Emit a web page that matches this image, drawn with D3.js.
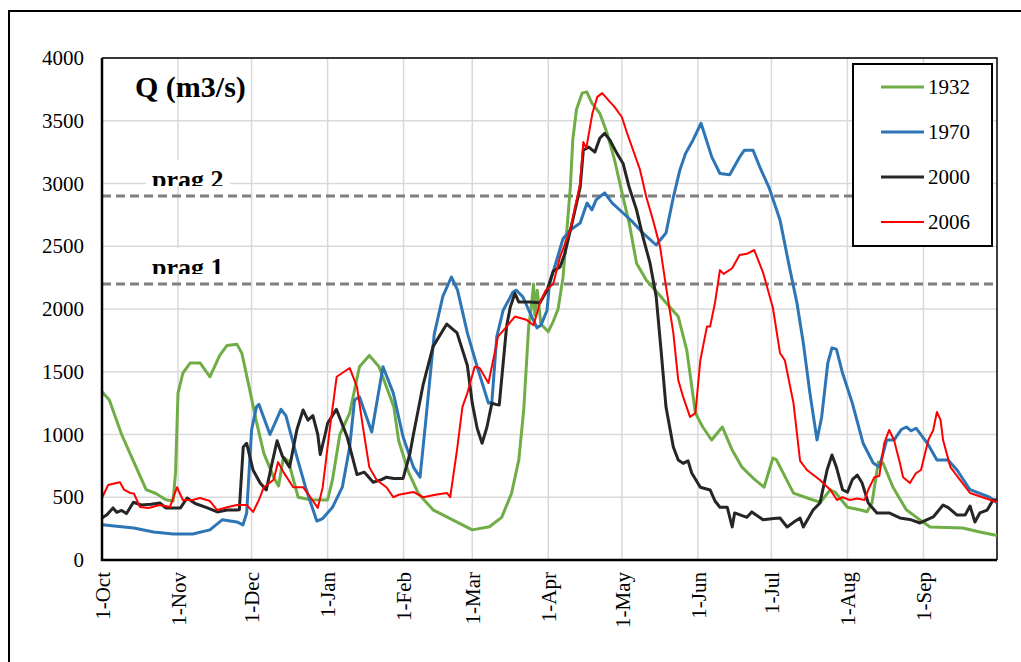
<!DOCTYPE html>
<html>
<head>
<meta charset="utf-8">
<script src="https://cdn.jsdelivr.net/npm/d3@7"></script>
<style>
  body { margin: 0; background: #fff; }
  svg { display: block; font-family: "Liberation Serif", "Times New Roman", serif; }
</style>
</head>
<body>
<div id="chart"></div>
<script>
// day offsets counted from 1-Oct
const monthDays = [0, 31, 61, 92, 123, 151, 182, 212, 243, 273, 304, 335];
const monthLabels = ["1-Oct", "1-Nov", "1-Dec", "1-Jan", "1-Feb", "1-Mar", "1-Apr", "1-May", "1-Jun", "1-Jul", "1-Aug", "1-Sep"];
const yTicks = [0, 500, 1000, 1500, 2000, 2500, 3000, 3500, 4000];
const thresholds = [{ name: "prag 1", q: 2200 }, { name: "prag 2", q: 2900 }];
const years = ["1932", "1970", "2000", "2006"];

// [day, Q m3/s]
const q1932 = [[0,1340],[3,1275],[8,1000],[13,780],[18,560],[22,530],[26,480],[29,470],[30,700],[31,1330],[33,1490],[36,1570],[40,1570],[44,1460],[48,1630],[51,1710],[55,1720],[57,1650],[60,1380],[63,1100],[66,850],[70,660],[72,590],[74,820],[76,790],[80,500],[85,480],[92,478],[94,640],[97,1000],[101,1170],[105,1540],[109,1630],[113,1540],[119,1220],[121,950],[125,700],[129,530],[135,400],[143,320],[151,240],[158,265],[163,340],[167,530],[170,800],[172,1200],[174,1860],[175,2000],[176,2200],[176.5,1950],[177.5,2150],[179,1880],[182,1820],[184,1900],[186,2000],[188,2250],[191,2970],[192,3350],[193.5,3590],[195.8,3720],[197.7,3730],[199.8,3640],[203,3560],[206,3400],[209,3190],[212.5,2890],[215,2685],[218,2365],[222,2230],[227,2120],[230,2050],[235,1940],[238.5,1670],[242,1170],[245,1060],[248.6,956],[253,1060],[257,876],[261,740],[265.5,653],[270,580],[273.6,812],[275,800],[282,533],[290,478],[293,460],[297,560],[299,540],[304,420],[309,400],[312,384],[314,455],[316.6,780],[318.5,773],[322.6,580],[328,400],[333.6,320],[337.7,263],[351,255],[358,223],[365,195]];
const q1970 = [[0,280],[5,270],[13,255],[21,223],[29,207],[37,207],[44,240],[49,320],[55,303],[57.5,280],[59,375],[61,1036],[63,1220],[64,1240],[68.5,1000],[73,1200],[75,1150],[79.5,820],[83,580],[87.6,310],[90,330],[94,420],[98,580],[101,900],[103,1275],[105,1300],[110,1020],[114.6,1540],[118.8,1330],[122.8,980],[127,740],[129.7,660],[132,1100],[135.5,1800],[139,2100],[142.5,2255],[145,2150],[149,1810],[153,1540],[157.6,1250],[159,1260],[161,1780],[163.6,1990],[167.6,2135],[169,2150],[171.7,2095],[174.5,1970],[177.4,1850],[179,1870],[181.5,1990],[182.5,2200],[185.6,2400],[188,2560],[191,2630],[195,2685],[197.8,2845],[199.8,2790],[201.5,2870],[205,2925],[208,2845],[212.5,2765],[216.6,2690],[220.6,2605],[226,2510],[230,2605],[233,2890],[235.7,3110],[238,3240],[241,3345],[244.3,3480],[248.7,3210],[252,3080],[256,3070],[260,3210],[262,3265],[265.5,3265],[268.5,3120],[272,2970],[276.5,2710],[280.6,2310],[283.4,2050],[286,1730],[288.7,1330],[291.6,956],[293.5,1140],[296,1570],[297.7,1690],[299.5,1680],[302,1490],[306,1250],[310.4,930],[314.5,773],[317,740],[320,956],[323,956],[326,1040],[328,1060],[330,1030],[332,1050],[336.6,930],[340.5,797],[345,797],[348.7,717],[354,560],[362,500],[365,455]];
const q2000 = [[0,335],[2,360],[4.5,415],[6,380],[8,395],[10,370],[12.8,460],[16,438],[20,445],[23.6,454],[26,415],[32,415],[34.7,494],[38,450],[43,415],[47,383],[51,398],[55,398],[56,400],[57.6,900],[59,930],[61.6,717],[64.5,613],[67,558],[69,740],[71.4,950],[73.5,830],[76.5,740],[79.5,1040],[82,1195],[84,1115],[86,1150],[88,1000],[89,840],[91,1000],[92,1090],[95.6,1200],[100,980],[104,680],[107,700],[110.6,620],[114,640],[116,660],[119,650],[122.8,650],[125.6,850],[127,1000],[131,1400],[135,1700],[140.6,1880],[144.8,1810],[149,1550],[151,1250],[153,1050],[155,930],[157,1060],[159,1250],[160.5,1240],[162,1235],[165,1860],[166.5,2015],[168.4,2125],[170,2055],[174.5,2055],[178.6,2050],[181.5,2150],[184,2300],[186.8,2335],[188.8,2445],[192,2710],[195,2970],[196.3,3265],[198.5,3290],[201,3250],[203,3360],[205,3400],[207,3350],[210,3240],[212.5,3160],[215,2970],[218,2790],[220.6,2575],[223.5,2365],[226,2100],[228,1670],[230,1220],[233,900],[235,797],[237,770],[239,790],[240.5,693],[244,580],[248,558],[250,470],[252,420],[255,420],[257,263],[258,375],[263,340],[265,383],[269.6,320],[274,330],[276.5,335],[279.4,263],[282,300],[284.7,335],[286,263],[290,398],[292.8,454],[295.7,717],[297.7,837],[299.5,740],[302,560],[304,540],[306,640],[308,677],[310,613],[312.5,454],[316,375],[321,375],[325.4,335],[330,320],[333.6,295],[339,343],[343,438],[345,420],[348.7,358],[352,358],[354,430],[356,303],[358,375],[361,398],[363.4,478],[365,478]];
const q2006 = [[0,494],[2.5,598],[5,610],[7.3,620],[9,560],[11.4,534],[13,530],[15.5,422],[19,415],[23.6,438],[27.7,422],[30.6,580],[33,478],[37,478],[40,494],[44,470],[47,398],[51,420],[55,438],[59,438],[61.6,383],[64,478],[66,580],[70,640],[71.8,780],[74,700],[78,580],[82,580],[85,500],[88,415],[90,580],[93,1060],[95.7,1460],[98,1490],[101,1530],[104,1380],[106.4,1060],[109,740],[112,637],[116,580],[118.8,500],[121,520],[127,542],[131,500],[136,520],[140.7,534],[142,500],[144.8,880],[147,1220],[149,1330],[152,1540],[154,1530],[157.6,1410],[159.5,1590],[161.5,1780],[165,1860],[168.4,1940],[173,1915],[176,1870],[178.6,2050],[181,2150],[184,2200],[186.8,2415],[191,2630],[195,3000],[196.3,3330],[197.5,3280],[200,3560],[202,3690],[204,3720],[206.5,3665],[209,3610],[212,3530],[214,3410],[216.6,3265],[219.4,3110],[222,2890],[224.7,2710],[227.6,2495],[230,2180],[233,1810],[235,1434],[237,1300],[239.8,1140],[242,1170],[244,1590],[246.7,1860],[248,1860],[250,2050],[252,2310],[253.5,2280],[257,2325],[260,2430],[263,2440],[266,2470],[269.6,2290],[273.6,2010],[276.5,1650],[278.5,1590],[282,1250],[284.7,790],[287.5,717],[292.8,637],[297,560],[299.7,478],[302,500],[305,478],[308,490],[311,478],[312.5,560],[315,660],[317,670],[319,930],[321,1036],[323,956],[325.4,773],[326.7,660],[329.5,613],[332,693],[334,717],[337,956],[339,1036],[340.5,1180],[342,1115],[343,956],[346,740],[350,637],[354,534],[359,500],[365,462]];

const seriesData = [q1932, q1970, q2000, q2006];
const colors = ["#70ad47", "#2e75b6", "#262626", "#ff0000"];
const widths = [3, 3, 3, 2];

const W = 1021, H = 662;
const svg = d3.select("#chart").append("svg").attr("width", W).attr("height", H);
svg.append("rect").attr("width", W).attr("height", H).attr("fill", "#fff");

// outer frame (right and bottom edges fall off the picture)
svg.append("rect").attr("x", 9).attr("y", 11).attr("width", 1030).attr("height", 700)
  .attr("fill", "none").attr("stroke", "#000").attr("stroke-width", 2);

const x = d3.scaleLinear().domain([0, 365]).range([102, 997]);
const y = d3.scaleLinear().domain([0, 4000]).range([560, 58]);

// grid
svg.append("g").selectAll("line").data(yTicks.slice(1)).join("line")
  .attr("x1", x(0)).attr("x2", x(365)).attr("y1", d => y(d)).attr("y2", d => y(d))
  .attr("stroke", "#d9d9d9").attr("stroke-width", 1.5);
svg.append("g").selectAll("line").data(monthDays.slice(1)).join("line")
  .attr("x1", d => x(d)).attr("x2", d => x(d)).attr("y1", y(0)).attr("y2", y(4000))
  .attr("stroke", "#d9d9d9").attr("stroke-width", 1.5);

// plot frame top/right
svg.append("path")
  .attr("d", `M${x(0)},${y(4000)}H${x(365)}V${y(0)}`)
  .attr("fill", "none").attr("stroke", "#000").attr("stroke-width", 1.5);

// axes labels
const yAxis = d3.axisLeft(y).tickValues(yTicks).tickSize(0).tickPadding(18).tickFormat(d3.format("d"));
svg.append("g").attr("transform", `translate(${x(0)},0)`).call(yAxis)
  .call(g => g.select(".domain").remove())
  .selectAll("text").attr("font-size", 21).attr("fill", "#000")
  .attr("font-family", "Liberation Serif, serif");

const xAxis = d3.axisBottom(x).tickValues(monthDays).tickSize(0).tickFormat((d, i) => monthLabels[i]);
svg.append("g").attr("transform", `translate(0,${y(0)})`).call(xAxis)
  .call(g => g.select(".domain").remove())
  .selectAll("text")
  .attr("font-size", 21).attr("fill", "#000").attr("font-family", "Liberation Serif, serif")
  .attr("transform", "rotate(-90)")
  .attr("text-anchor", "end").attr("dy", "0.35em").attr("x", -12).attr("y", 0);

// threshold labels in white boxes, clipped at the bottom
thresholds.forEach((t, i) => {
  const bottom = y(t.q) - 10;
  const id = "clipPrag" + i;
  svg.append("clipPath").attr("id", id).append("rect")
    .attr("x", 146).attr("y", bottom - 30).attr("width", 84).attr("height", 30);
  svg.append("rect").attr("x", 146).attr("y", bottom - 26).attr("width", 84).attr("height", 26).attr("fill", "#fff");
  svg.append("text").attr("clip-path", `url(#${id})`)
    .attr("x", 152).attr("y", bottom + 2)
    .attr("font-size", 26).attr("font-weight", "bold").attr("fill", "#000")
    .text(t.name);
});

// threshold lines
svg.append("g").selectAll("line").data(thresholds).join("line")
  .attr("x1", x(0)).attr("x2", x(365)).attr("y1", d => y(d.q)).attr("y2", d => y(d.q))
  .attr("stroke", "#7f7f7f").attr("stroke-width", 3).attr("stroke-dasharray", "9,5");

// series
const line = d3.line().x(d => x(d[0])).y(d => y(d[1])).curve(d3.curveLinear);
svg.append("g").selectAll("path").data(seriesData).join("path")
  .attr("d", line).attr("fill", "none")
  .attr("stroke", (d, i) => colors[i]).attr("stroke-width", (d, i) => widths[i])
  .attr("stroke-linejoin", "round");

// axis lines left/bottom
svg.append("path")
  .attr("d", `M${x(0)},${y(4000)}V${y(0)}H${x(365)}`)
  .attr("fill", "none").attr("stroke", "#000").attr("stroke-width", 2.5);

// title
svg.append("text").attr("x", 135).attr("y", 97)
  .attr("font-size", 30).attr("font-weight", "bold").attr("fill", "#000")
  .text("Q (m3/s)");

// legend
const lg = svg.append("g");
lg.append("rect").attr("x", 853).attr("y", 64).attr("width", 139).attr("height", 182)
  .attr("fill", "#fff").attr("stroke", "#000").attr("stroke-width", 2);
const items = lg.selectAll("g.item").data(years).join("g").attr("class", "item")
  .attr("transform", (d, i) => `translate(0,${87 + i * 45})`);
items.append("line").attr("x1", 881).attr("x2", 924)
  .attr("stroke", (d, i) => colors[i]).attr("stroke-width", (d, i) => widths[i]);
items.append("text").attr("x", 928).attr("dy", "0.35em")
  .attr("font-size", 21).attr("fill", "#000").text(d => d);
</script>
</body>
</html>
